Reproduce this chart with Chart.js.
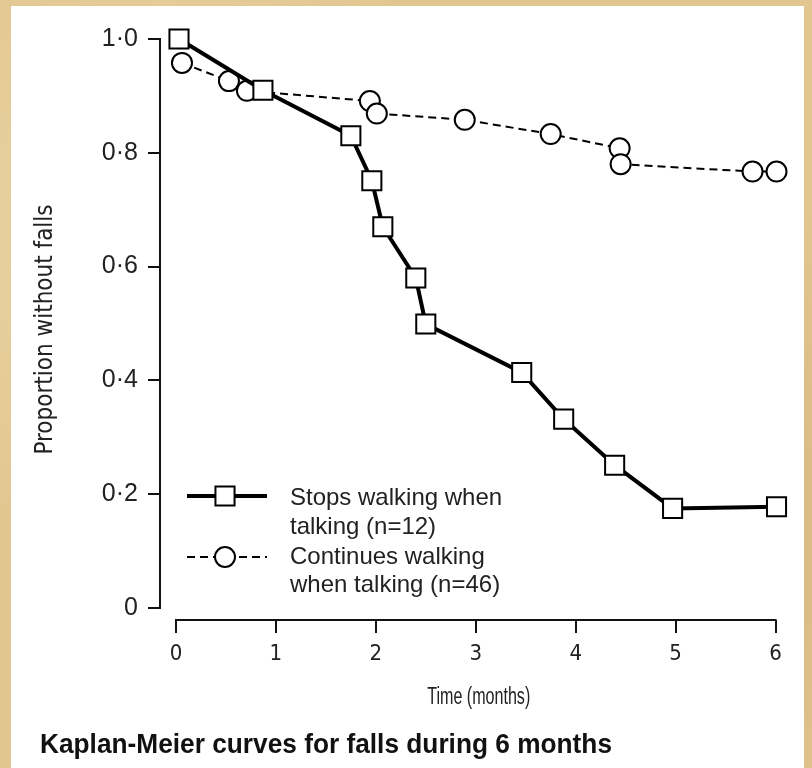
<!DOCTYPE html>
<html><head><meta charset="utf-8">
<script src="https://cdn.jsdelivr.net/npm/chart.js@4.4.1/dist/chart.umd.min.js"></script>
<style>
html,body{margin:0;padding:0;width:812px;height:768px;overflow:hidden;background:#e2c690;
background-image:radial-gradient(circle at 20% 30%, rgba(255,240,200,0.35) 0, rgba(0,0,0,0) 40%),radial-gradient(circle at 80% 70%, rgba(170,130,70,0.25) 0, rgba(0,0,0,0) 45%);}
#panel{position:absolute;left:11px;top:6px;width:793px;height:762px;background:#fff;}
canvas{display:block;position:absolute;left:0;top:0;}
</style></head><body>
<div id="panel"></div>
<canvas id="c" width="812" height="768"></canvas>
<script>
// ---- data ----
const stopsTime = [0.03, 0.87, 1.75, 1.96, 2.07, 2.40, 2.50, 3.46, 3.88, 4.39, 4.97, 6.01];
const stopsProp = [1.000, 0.910, 0.830, 0.751, 0.670, 0.580, 0.499, 0.414, 0.332, 0.251, 0.175, 0.178];
const contTime  = [0.06, 0.53, 0.71, 1.94, 2.01, 2.89, 3.75, 4.44, 4.45, 5.77, 6.01];
const contProp  = [0.958, 0.926, 0.909, 0.891, 0.869, 0.858, 0.833, 0.808, 0.780, 0.767, 0.767];
const xTickValues = [0, 1, 2, 3, 4, 5, 6];
const yTickValues = [0, 0.2, 0.4, 0.6, 0.8, 1.0];
const yTickLabels = ['0', '0·2', '0·4', '0·6', '0·8', '1·0'];
const seriesLabels = [['Stops walking when', 'talking (n=12)'], ['Continues walking', 'when talking (n=46)']];
const xTitle = 'Time (months)';
const yTitle = 'Proportion without falls';
const caption = 'Kaplan-Meier curves for falls during 6 months';

const SANS = "'Liberation Sans', Arial, sans-serif";
const NARROW = "'Liberation Sans Narrow', 'Arial Narrow', 'DejaVu Sans Condensed', sans-serif";
const INK = '#222';

const toPts = (xs, ys) => xs.map((x, i) => ({x: x, y: ys[i]}));

function fitText(ctx, text, x, y, font, width, align) {
  ctx.save();
  ctx.font = font;
  ctx.textBaseline = 'middle';
  ctx.textAlign = 'left';
  const w = ctx.measureText(text).width;
  const k = width / w;
  const left = align === 'center' ? x - width / 2 : x;
  ctx.translate(left, y);
  ctx.scale(k, 1);
  ctx.fillText(text, 0, 0);
  ctx.restore();
}

const axisLines = {
  id: 'axisLines',
  beforeDatasetsDraw(chart) {
    const {ctx, scales: {x, y}, chartArea} = chart;
    ctx.save();
    ctx.strokeStyle = '#111';
    ctx.lineWidth = 2;
    ctx.beginPath();
    ctx.moveTo(chartArea.left, y.getPixelForValue(yTickValues[yTickValues.length - 1]) - 1);
    ctx.lineTo(chartArea.left, y.getPixelForValue(yTickValues[0]) + 1);
    ctx.moveTo(x.getPixelForValue(xTickValues[0]) - 1, chartArea.bottom);
    ctx.lineTo(x.getPixelForValue(xTickValues[xTickValues.length - 1]) + 1, chartArea.bottom);
    ctx.stroke();
    ctx.restore();
  }
};

const legendAndCaption = {
  id: 'legendAndCaption',
  afterDraw(chart) {
    const {ctx, scales: {x}} = chart;
    const rows = [496, 557];
    const textRows = [[498, 527], [557, 585]];
    chart.data.datasets.forEach((ds, i) => {
      const y = rows[i];
      ctx.save();
      ctx.strokeStyle = ds.borderColor;
      ctx.lineWidth = ds.borderWidth;
      ctx.setLineDash(ds.borderDash || []);
      ctx.beginPath();
      ctx.moveTo(187, y);
      ctx.lineTo(267, y);
      ctx.stroke();
      ctx.setLineDash([]);
      ctx.fillStyle = ds.pointBackgroundColor;
      ctx.strokeStyle = ds.pointBorderColor;
      ctx.lineWidth = ds.pointBorderWidth;
      Chart.helpers.drawPoint(ctx, {pointStyle: ds.pointStyle, radius: ds.pointRadius, borderWidth: ds.pointBorderWidth, rotation: 0}, 225, y);
      ctx.fillStyle = INK;
      ctx.font = '24px ' + SANS;
      ctx.textBaseline = 'middle';
      ctx.textAlign = 'left';
      seriesLabels[i].forEach((t, k) => ctx.fillText(t, 290, textRows[i][k]));
      ctx.restore();
    });
    ctx.fillStyle = INK;
    const cx = (x.getPixelForValue(xTickValues[0]) + x.getPixelForValue(xTickValues[xTickValues.length - 1])) / 2 + 3;
    fitText(ctx, xTitle, cx, 698, '23px ' + SANS, 103, 'center');
    ctx.fillStyle = '#111';
    fitText(ctx, caption, 40, 745, 'bold 28px ' + SANS, 572, 'left');
  }
};

new Chart(document.getElementById('c'), {
  type: 'line',
  data: {
    datasets: [
      {
        label: seriesLabels[0].join(' '),
        data: toPts(stopsTime, stopsProp),
        borderColor: '#000', borderWidth: 4, tension: 0, fill: false,
        pointStyle: 'rect', pointRadius: 13.5, pointBorderWidth: 2,
        pointBackgroundColor: '#fff', pointBorderColor: '#000', clip: false
      },
      {
        label: seriesLabels[1].join(' '),
        data: toPts(contTime, contProp),
        borderColor: '#000', borderWidth: 2, borderDash: [8, 5], tension: 0, fill: false,
        pointStyle: 'circle', pointRadius: 10, pointBorderWidth: 2,
        pointBackgroundColor: '#fff', pointBorderColor: '#000', clip: false
      }
    ]
  },
  options: {
    responsive: false,
    animation: false,
    events: [],
    layout: {padding: {left: 19, right: 14, top: 39, bottom: 52}},
    plugins: {legend: {display: false}, tooltip: {enabled: false}, title: {display: false}},
    scales: {
      x: {
        type: 'linear', min: -0.16, max: 6.21,
        afterBuildTicks: (s) => { s.ticks = xTickValues.map(v => ({value: v})); },
        afterFit: (s) => { s.height = 96; },
        border: {display: false},
        grid: {drawOnChartArea: false, drawTicks: true, tickLength: 13, color: '#111', lineWidth: 2},
        ticks: {color: INK, font: {family: NARROW, size: 22}, padding: 8, maxRotation: 0,
                callback: (v) => String(v)},
        title: {display: false, text: xTitle}
      },
      y: {
        type: 'linear', min: -0.0211, max: 1.0,
        afterBuildTicks: (s) => { s.ticks = yTickValues.map(v => ({value: v})); },
        afterFit: (s) => { s.width = 141; },
        border: {display: false},
        grid: {drawOnChartArea: false, drawTicks: true, tickLength: 12, color: '#111', lineWidth: 2},
        ticks: {color: INK, font: {family: SANS, size: 25}, padding: 10,
                callback: (v) => { const i = yTickValues.findIndex(t => Math.abs(t - v) < 1e-6); return i >= 0 ? yTickLabels[i] : ''; }},
        title: {display: true, text: yTitle, color: INK, font: {family: NARROW, size: 24}, padding: {top: 12, bottom: 0}}
      }
    }
  },
  plugins: [axisLines, legendAndCaption]
});
</script>
</body></html>
